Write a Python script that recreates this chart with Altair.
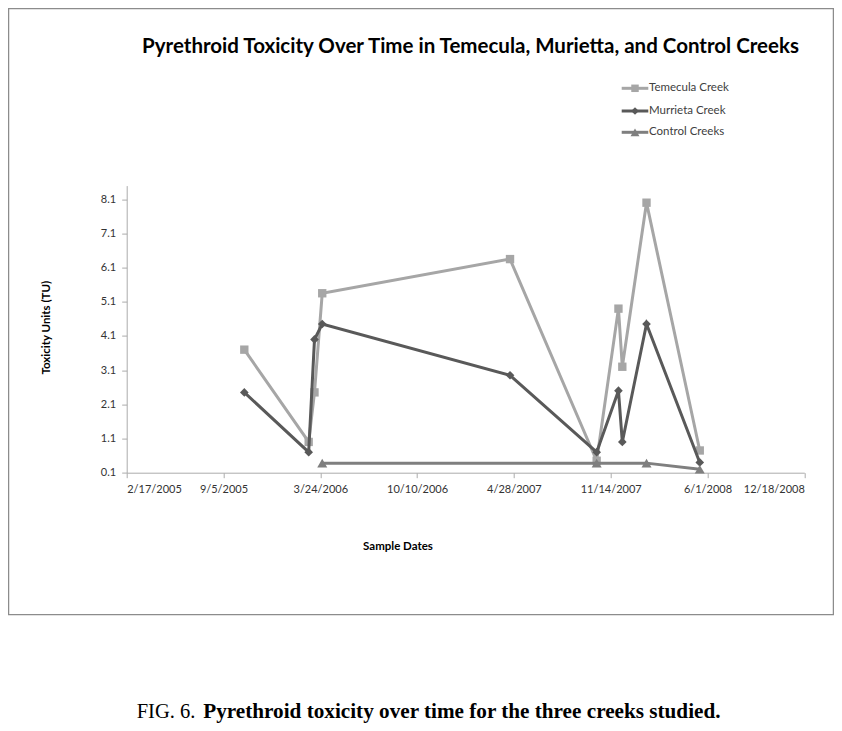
import altair as alt
import pandas as pd

# ---- data ----
sample_dates = ["2005-10-18", "2006-02-28", "2006-03-12", "2006-03-28", "2007-04-20",
                "2007-10-16", "2007-11-30", "2007-12-08", "2008-01-27", "2008-05-16"]
temecula = [3.7, 1.0, 2.45, 5.35, 6.35, 0.45, 4.9, 3.2, 8.0, 0.75]
murrieta = [2.45, 0.7, 4.0, 4.45, 2.95, 0.7, 2.5, 1.0, 4.45, 0.4]
control_dates = ["2006-03-28", "2007-10-16", "2008-01-27", "2008-05-16"]
control = [0.38, 0.38, 0.38, 0.2]

series_names = ["Temecula Creek", "Murrieta Creek", "Control Creeks"]
x_ticks = ["2005-02-17", "2005-09-05", "2006-03-24", "2006-10-10",
           "2007-04-28", "2007-11-14", "2008-06-01", "2008-12-18"]
y_ticks = [0.1, 1.1, 2.1, 3.1, 4.1, 5.1, 6.1, 7.1, 8.1]

title_text = "Pyrethroid Toxicity Over Time in Temecula, Murietta, and Control Creeks"
y_title = "Toxicity Units (TU)"
x_title = "Sample Dates"
caption_a = "FIG. 6."
caption_b = "Pyrethroid toxicity over time for the three creeks studied."

# ---- styling / layout ----
colors = ["#A6A6A6", "#595959", "#7F7F7F"]
shapes = ["square", "diamond", "triangle-up"]
sizes = [70, 75, 100]
FONT = "Lato"

OX, OY = 126.7, 185.6          # plot origin on the page
W, H = 677.6, 287.1

def ms(d):
    return int(pd.Timestamp(d, tz="UTC").value // 10**6)

x_enc = alt.X("date:T",
              scale=alt.Scale(type="utc", domain=[ms(x_ticks[0]), ms(x_ticks[-1])], nice=False),
              axis=alt.Axis(values=[ms(d) for d in x_ticks],
                            labelExpr="utcFormat(datum.value, '%-m/%-d/%Y')",
                            title=None, labelPadding=6, tickSize=5))
y_enc = alt.Y("value:Q",
              scale=alt.Scale(domain=[0.1, 8.5], nice=False, zero=False),
              axis=alt.Axis(values=y_ticks, format=".1f", title=None,
                            labelPadding=6, tickSize=5))

frames = [
    pd.DataFrame({"date": sample_dates, "value": temecula}),
    pd.DataFrame({"date": sample_dates, "value": murrieta}),
    pd.DataFrame({"date": control_dates, "value": control}),
]

layers = []

# outer frame
layers.append(
    alt.Chart(pd.DataFrame({"a": [0]})).mark_rect(fill="white", fillOpacity=0,
                                                  stroke="#8C8C8C", strokeWidth=1.3)
    .encode(x=alt.value(8.6 - OX), x2=alt.value(833.4 - OX),
            y=alt.value(8.6 - OY), y2=alt.value(614.7 - OY))
)

for i, df in enumerate(frames):
    base = alt.Chart(df)
    layers.append(base.mark_line(color=colors[i], strokeWidth=3).encode(x=x_enc, y=y_enc))
    layers.append(base.mark_point(shape=shapes[i], filled=True, opacity=1, color=colors[i],
                                  size=sizes[i]).encode(x=x_enc, y=y_enc))

# legend
legend_y = [88.3, 111.0, 132.3]
for i, name in enumerate(series_names):
    ly = legend_y[i] - OY
    one = alt.Chart(pd.DataFrame({"t": [name]}))
    layers.append(one.mark_rule(color=colors[i], strokeWidth=3)
                  .encode(x=alt.value(621.7 - OX), x2=alt.value(648.3 - OX), y=alt.value(ly)))
    layers.append(one.mark_point(shape=shapes[i], filled=True, opacity=1, color=colors[i],
                                 size=sizes[i] * 0.8)
                  .encode(x=alt.value(635 - OX), y=alt.value(ly)))
    layers.append(one.mark_text(align="left", baseline="middle", font=FONT, fontSize=11.5,
                                color="#404040")
                  .encode(x=alt.value(649 - OX), y=alt.value(ly), text="t:N"))

# title
layers.append(
    alt.Chart(pd.DataFrame({"t": [title_text]}))
    .mark_text(align="center", baseline="alphabetic", font=FONT, fontSize=20.5,
               fontWeight="bold", color="#000000")
    .encode(x=alt.value(470.5 - OX), y=alt.value(53 - OY), text="t:N")
)
# y title
layers.append(
    alt.Chart(pd.DataFrame({"t": [y_title]}))
    .mark_text(align="center", baseline="middle", angle=270, font=FONT, fontSize=11.5,
               fontWeight="bold", color="#000000")
    .encode(x=alt.value(46.7 - OX), y=alt.value(327.7 - OY), text="t:N")
)
# x title
layers.append(
    alt.Chart(pd.DataFrame({"t": [x_title]}))
    .mark_text(align="center", baseline="middle", font=FONT, fontSize=11.5,
               fontWeight="bold", color="#000000")
    .encode(x=alt.value(398 - OX), y=alt.value(547 - OY), text="t:N")
)
# caption
layers.append(
    alt.Chart(pd.DataFrame({"t": [caption_a]}))
    .mark_text(align="left", baseline="alphabetic", font="Liberation Serif", fontSize=20.5,
               color="#000000")
    .encode(x=alt.value(136.7 - OX), y=alt.value(717.5 - OY), text="t:N")
)
layers.append(
    alt.Chart(pd.DataFrame({"t": [caption_b]}))
    .mark_text(align="left", baseline="alphabetic", font="Liberation Serif", fontSize=21.2,
               fontWeight="bold", color="#000000")
    .encode(x=alt.value(203.3 - OX), y=alt.value(717.5 - OY), text="t:N")
)

chart = (
    alt.layer(*layers)
    .properties(width=W, height=H,
                autosize=alt.AutoSizeParams(type="none"),
                padding={"left": OX - 8, "top": OY - 8,
                         "right": 826 - (OX - 8) - W, "bottom": 715 - (OY - 8) - H})
    .configure_view(stroke=None)
    .configure_axis(grid=False, domainColor="#ABABAB", tickColor="#ABABAB",
                    labelFont=FONT, labelFontSize=11, labelColor="#333333",
                    domainWidth=1, tickWidth=1)
)

chart.save("out.html", embed_options={"renderer": "svg", "actions": False})
